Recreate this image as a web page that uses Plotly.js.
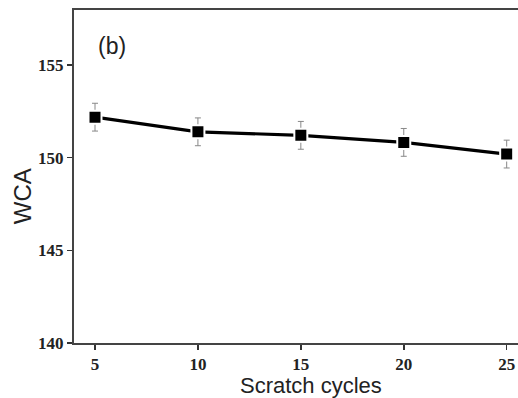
<!DOCTYPE html>
<html>
<head>
<meta charset="utf-8">
<script src="https://cdn.plot.ly/plotly-3.0.1.min.js"></script>
<style>html,body{margin:0;padding:0;background:#fff;overflow:hidden}#chart{width:518px;height:398px}</style>
</head>
<body>
<div id="chart"></div>
<script>
const scratchCycles = [5, 10, 15, 20, 25];
const wca = [152.18, 151.39, 151.2, 150.82, 150.19];
const wcaErr = [0.75, 0.75, 0.75, 0.75, 0.75];
const yTicks = [140, 145, 150, 155];
const xTicks = [5, 10, 15, 20, 25];

const trace = {
  x: scratchCycles,
  y: wca,
  type: 'scatter',
  mode: 'lines+markers',
  line: {color: '#000', width: 3.2},
  marker: {symbol: 'square', size: 13, color: '#000', line: {color: '#fff', width: 2}},
  error_y: {type: 'data', array: wcaErr, visible: true, color: '#888', thickness: 1, width: 3},
  showlegend: false,
  hoverinfo: 'skip'
};

const tickFont = {family: '"Liberation Serif", "Times New Roman", serif', size: 17, color: '#222', weight: 'bold'};
const sansFont = '"Liberation Sans", Arial, sans-serif';

const layout = {
  width: 518, height: 398,
  margin: {l: 74, r: 0, t: 10, b: 55},
  paper_bgcolor: '#fff', plot_bgcolor: '#fff',
  xaxis: {
    range: [3.98, 25.55],
    tickvals: xTicks, ticktext: xTicks.map(String),
    ticks: 'outside', ticklen: 5, tickwidth: 1.5, tickcolor: '#333',
    showline: true, linecolor: '#444', linewidth: 2, mirror: true,
    showgrid: false, zeroline: false,
    tickfont: tickFont
  },
  yaxis: {
    range: [140, 157.96],
    tickvals: yTicks, ticktext: yTicks.map(String),
    ticks: 'outside', ticklen: 5, tickwidth: 1.5, tickcolor: '#333',
    showline: true, linecolor: '#444', linewidth: 2, mirror: false,
    showgrid: false, zeroline: false,
    tickfont: tickFont
  },
  annotations: [
    {text: 'Scratch cycles', xref: 'paper', yref: 'paper', x: 0.534, y: -0.127, xanchor: 'center', yanchor: 'middle', showarrow: false,
     font: {family: sansFont, size: 22, color: '#222'}},
    {text: 'WCA', xref: 'paper', yref: 'paper', x: -0.117, y: 0.441, xanchor: 'center', yanchor: 'middle', showarrow: false, textangle: -90,
     font: {family: sansFont, size: 24, color: '#222'}},
    {text: '(b)', xref: 'paper', yref: 'paper', x: 0.05, y: 0.892, xanchor: 'left', yanchor: 'middle', showarrow: false,
     font: {family: sansFont, size: 23, color: '#222'}}
  ]
};

Plotly.newPlot('chart', [trace], layout, {staticPlot: true, displayModeBar: false});
</script>
</body>
</html>
